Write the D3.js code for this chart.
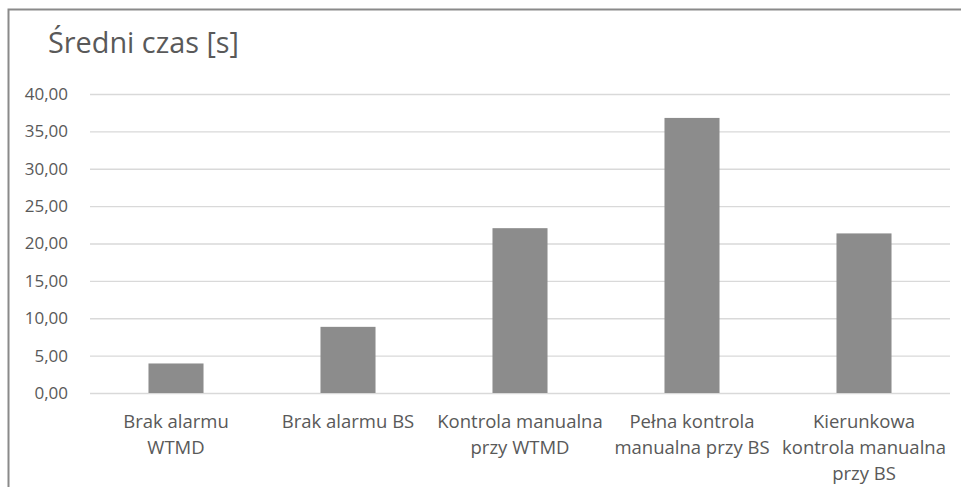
<!DOCTYPE html>
<html><head><meta charset="utf-8">
<script src="https://cdn.jsdelivr.net/npm/d3@7"></script>
<style>body{margin:0;background:#fff;} text{font-family:"Open Sans","Noto Sans",sans-serif;}</style>
</head><body><svg id="c" width="961" height="487"></svg>
<script>
const categories = [["Brak alarmu","WTMD"],["Brak alarmu BS"],["Kontrola manualna","przy WTMD"],["Pełna kontrola","manualna przy BS"],["Kierunkowa","kontrola manualna","przy BS"]];
const values = [3.95, 8.85, 22.05, 36.8, 21.35];
const yTicks = [0,5,10,15,20,25,30,35,40];
const title = "Średni czas [s]";

const svg = d3.select("#c");
svg.append("rect").attr("x",0).attr("y",0).attr("width",961).attr("height",487).attr("fill","#fff");
svg.append("path").attr("d","M8.5,487V9.5H961").attr("fill","none").attr("stroke","#8a8a8a").attr("stroke-width",2);

const x = d3.scaleBand().domain(d3.range(values.length)).range([90,950]).paddingInner(0.68).paddingOuter(0.34);
const y = d3.scaleLinear().domain([0,40]).range([393,94]);

svg.append("text").attr("x",48).attr("y",53).attr("fill","#595959").attr("font-size",29).attr("textLength",191).attr("lengthAdjust","spacingAndGlyphs").text(title);

const ax = svg.append("g").attr("transform","translate(90,0)")
  .call(d3.axisLeft(y).tickValues(yTicks).tickSize(-860).tickFormat(d=>d.toFixed(2).replace(".",",")));
ax.select(".domain").remove();
ax.selectAll(".tick line").attr("stroke","#d9d9d9").attr("stroke-width",1.3);
ax.selectAll(".tick text").attr("x",-22).attr("fill","#595959").attr("font-size",17);

svg.append("g").selectAll("rect").data(values).join("rect")
  .attr("x",(d,i)=>x(i)).attr("width",x.bandwidth())
  .attr("y",d=>y(d)).attr("height",d=>y(0)-y(d)).attr("fill","#8c8c8c");

const lab = svg.append("g").selectAll("text").data(categories).join("text")
  .attr("text-anchor","middle").attr("fill","#595959").attr("font-size",18.5)
  .attr("x",(d,i)=>x(i)+x.bandwidth()/2).attr("y",428);
lab.selectAll("tspan").data(d=>d).join("tspan")
  .attr("x",function(){return this.parentNode.getAttribute("x");})
  .attr("dy",(d,i)=>i===0?0:26).text(d=>d);
</script></body></html>
